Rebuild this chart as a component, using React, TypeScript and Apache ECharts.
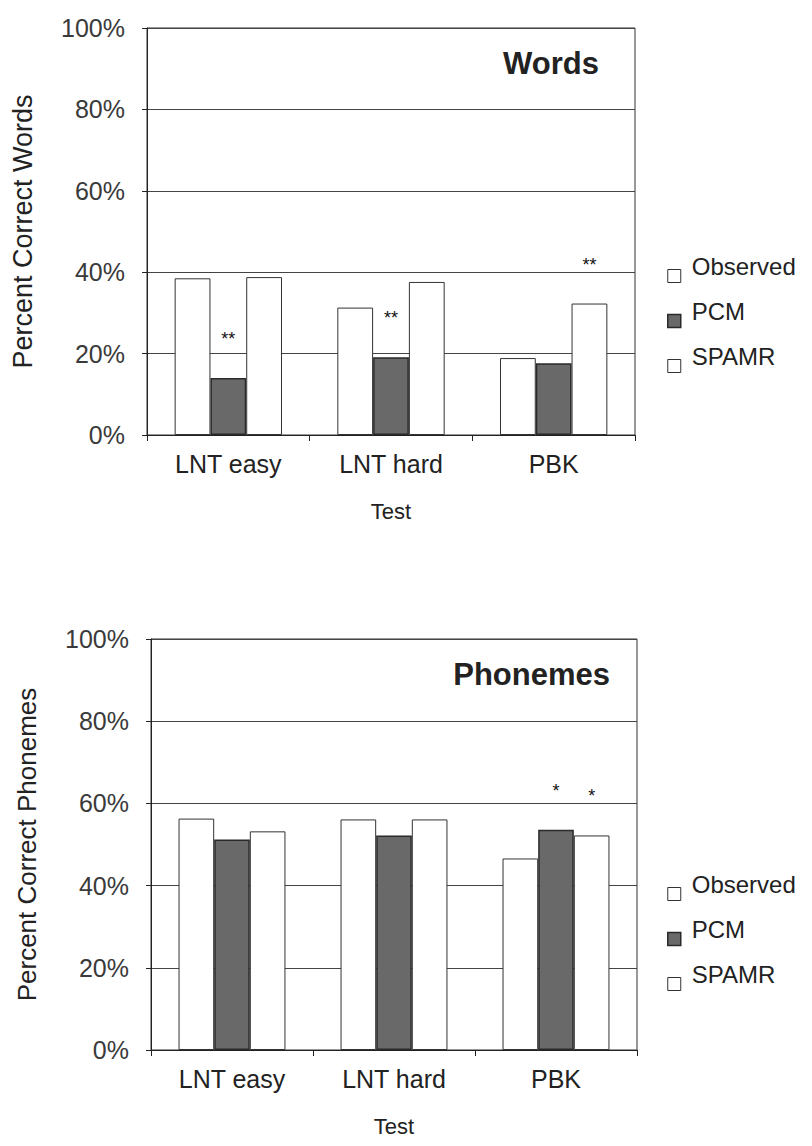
import React, { useEffect, useRef } from "react";
import * as echarts from "echarts";

const categories = ["LNT easy", "LNT hard", "PBK"];
const seriesNames = ["Observed", "PCM", "SPAMR"];
const yTicks = [0, 20, 40, 60, 80, 100];

const wordsObserved = [38.5, 31.3, 18.9];
const wordsPCM = [14.0, 19.1, 17.6];
const wordsSPAMR = [38.8, 37.6, 32.3];
const wordsSigPCM = ["**", "**", ""];
const wordsSigSPAMR = ["", "", "**"];

const phonemesObserved = [56.3, 56.1, 46.6];
const phonemesPCM = [51.2, 52.2, 53.6];
const phonemesSPAMR = [53.2, 56.1, 52.2];
const phonemesSigPCM = ["", "", "*"];
const phonemesSigSPAMR = ["", "", "*"];

const FONT = "'Liberation Sans', Arial, sans-serif";
const TXT = "#222";

const styles: Record<string, any> = {
  Observed: { color: "#ffffff", borderColor: "#333", borderWidth: 1 },
  PCM: { color: "#696969", borderColor: "#2a2a2a", borderWidth: 1.5 },
  SPAMR: { color: "#ffffff", borderColor: "#333", borderWidth: 1 },
};

function withSig(values: number[], sig: string[] | null) {
  return values.map((v, i) => {
    if (!sig || !sig[i]) return { value: v };
    return {
      value: v,
      label: {
        show: true,
        position: "top",
        distance: 30,
        formatter: sig[i],
        fontSize: 18,
        color: "#111",
        fontFamily: FONT,
      },
    };
  });
}

function makeBar(name: string, idx: number, values: number[], sig: string[] | null) {
  return {
    type: "bar",
    name,
    xAxisIndex: idx,
    yAxisIndex: idx,
    barGap: "0%",
    barCategoryGap: "34%",
    itemStyle: styles[name],
    data: withSig(values, sig),
  };
}

function xAxis(idx: number) {
  return {
    type: "category",
    gridIndex: idx,
    data: categories,
    axisLine: { show: true, lineStyle: { color: "#222", width: 1 } },
    axisTick: { show: true, length: 6, lineStyle: { color: "#222" } },
    axisLabel: { fontSize: 25, color: TXT, fontFamily: FONT, margin: 16 },
    name: "Test",
    nameLocation: "middle",
    nameGap: 65,
    nameTextStyle: { fontSize: 22, color: TXT, fontFamily: FONT },
  };
}

function yAxis(idx: number, name: string, nameSize: number) {
  return {
    type: "value",
    gridIndex: idx,
    min: yTicks[0],
    max: yTicks[yTicks.length - 1],
    interval: yTicks[1] - yTicks[0],
    axisLine: { show: true, lineStyle: { color: "#222", width: 1 } },
    axisTick: { show: true, length: 5, inside: false, lineStyle: { color: "#222" } },
    axisLabel: {
      formatter: "{value}%",
      fontSize: 25,
      color: "#3a3a3a",
      fontFamily: FONT,
      margin: 22,
    },
    splitLine: { show: true, lineStyle: { color: "#444", width: 1 } },
    name,
    nameLocation: "middle",
    nameRotate: 90,
    nameGap: 111,
    nameTextStyle: { fontSize: nameSize, color: TXT, fontFamily: FONT },
  };
}

function legend(top: number) {
  return {
    orient: "vertical",
    left: 662,
    top,
    itemWidth: 13,
    itemHeight: 13,
    itemGap: 6,
    icon: "rect",
    selectedMode: false,
    formatter: (name: string) => `{a|${name}}\n{s| }`,
    textStyle: {
      fontSize: 24,
      color: TXT,
      fontFamily: FONT,
      rich: {
        a: { fontSize: 24, lineHeight: 24, color: TXT, fontFamily: FONT, padding: [0, 0, 0, 6] },
        s: { fontSize: 10, lineHeight: 20 },
      },
    },
    data: seriesNames.map((n) => ({ name: n, itemStyle: styles[n] })),
  };
}

export default function App() {
  const ref = useRef<HTMLDivElement>(null);
  useEffect(() => {
    if (!ref.current) return;
    const chart = echarts.init(ref.current, null, { renderer: "svg" });
    chart.setOption({
      animation: false,
      backgroundColor: "#ffffff",
      title: [
        {
          text: "Words",
          right: 208,
          top: 43,
          textStyle: { fontSize: 31, fontWeight: "bold", color: "#222", fontFamily: FONT },
        },
        {
          text: "Phonemes",
          right: 197,
          top: 654,
          textStyle: { fontSize: 31, fontWeight: "bold", color: "#222", fontFamily: FONT },
        },
      ],
      legend: [legend(249), legend(867)],
      grid: [
        { left: 147, top: 28, width: 488, height: 407, show: true, borderColor: "#333", borderWidth: 1, backgroundColor: "transparent" },
        { left: 151, top: 639, width: 486, height: 411, show: true, borderColor: "#333", borderWidth: 1, backgroundColor: "transparent" },
      ],
      xAxis: [xAxis(0), xAxis(1)],
      yAxis: [yAxis(0, "Percent Correct Words", 27), yAxis(1, "Percent Correct Phonemes", 26)],
      series: [
        makeBar("Observed", 0, wordsObserved, null),
        makeBar("PCM", 0, wordsPCM, wordsSigPCM),
        makeBar("SPAMR", 0, wordsSPAMR, wordsSigSPAMR),
        makeBar("Observed", 1, phonemesObserved, null),
        makeBar("PCM", 1, phonemesPCM, phonemesSigPCM),
        makeBar("SPAMR", 1, phonemesSPAMR, phonemesSigSPAMR),
      ],
    });
    return () => chart.dispose();
  }, []);
  return (
    <div
      ref={ref}
      style={{ position: "absolute", left: 0, top: 0, width: 812, height: 1146, background: "#fff" }}
    />
  );
}
